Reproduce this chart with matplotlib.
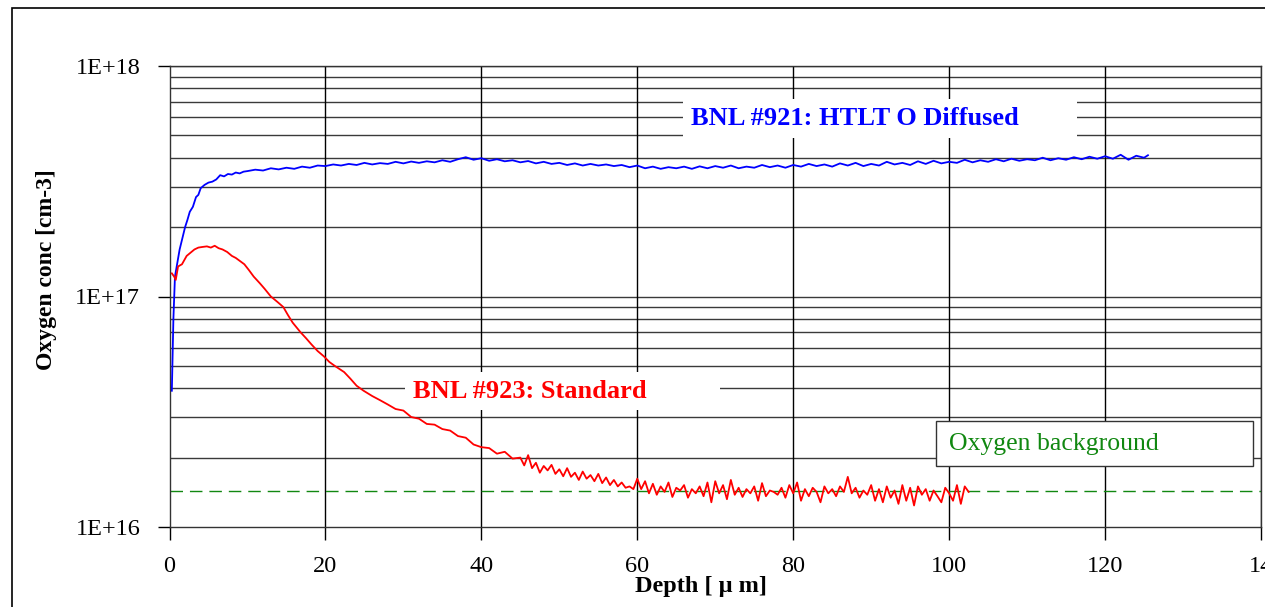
import matplotlib
matplotlib.use("Agg")
import matplotlib.pyplot as plt
from matplotlib.patches import Rectangle
from matplotlib.ticker import FixedLocator, NullFormatter

plt.rcParams['font.family'] = ['Liberation Serif', 'DejaVu Serif']

# ---- data (values in units of 1e17 cm-3) ----
blue_x = [0.3, 0.5, 0.7, 1.0, 1.3, 1.7, 2.0, 2.3, 2.6, 3.0, 3.4, 3.7, 4.0, 4.5, 5.0, 5.5, 6.0,
          6.5, 7.0, 7.5, 8.0, 8.5, 9.0, 9.5] + list(range(10, 126)) + [125.5]
blue_y = [0.39, 0.80, 1.22, 1.40, 1.60, 1.82, 2.00, 2.15, 2.33, 2.45, 2.70, 2.76, 2.95, 3.05,
          3.12, 3.15, 3.22, 3.36, 3.32, 3.40, 3.38, 3.45, 3.42, 3.48,
          3.50, 3.55, 3.52, 3.60, 3.56, 3.62, 3.58, 3.66, 3.62, 3.70,
          3.68, 3.74, 3.70, 3.76, 3.72, 3.80, 3.74, 3.79, 3.76, 3.84,
          3.78, 3.85, 3.80, 3.86, 3.82, 3.90, 3.84, 3.94, 4.02, 3.92,
          3.98, 3.88, 3.94, 3.86, 3.90, 3.82, 3.87, 3.78, 3.84, 3.76,
          3.80, 3.72, 3.78, 3.70, 3.76, 3.70, 3.74, 3.68, 3.72, 3.64,
          3.70, 3.60, 3.66, 3.58, 3.64, 3.60, 3.66, 3.58, 3.67, 3.60,
          3.68, 3.62, 3.70, 3.60, 3.66, 3.62, 3.72, 3.64, 3.70, 3.62,
          3.72, 3.66, 3.76, 3.68, 3.74, 3.66, 3.78, 3.70, 3.80, 3.68,
          3.76, 3.70, 3.84, 3.74, 3.80, 3.72, 3.86, 3.76, 3.88, 3.78,
          3.84, 3.80, 3.92, 3.82, 3.90, 3.84, 3.94, 3.86, 3.96, 3.88,
          3.94, 3.90, 4.00, 3.90, 3.98, 3.92, 4.02, 3.94, 4.04, 3.96,
          4.06, 3.96, 4.12, 3.92, 4.08, 4.00, 4.10]

red_x = [0.3, 0.6, 0.8, 1.1, 1.6, 2.2, 2.8, 3.2, 3.7, 4.2, 4.8, 5.3, 5.8, 6.3, 6.8, 7.4, 8.0,
         8.5, 9.1, 9.6, 10.2, 10.8, 11.6, 12.2, 13.0, 13.8, 14.6, 15.2, 15.8, 16.8, 17.5,
         18.2, 19.0, 19.8, 20.5, 21.2, 22.4, 23.2, 24.0, 24.9, 26.0, 27.0, 28.0, 29.0,
         30, 31, 32, 33, 34, 35, 36, 37, 38, 39, 40, 41, 42, 43, 44,
         45.0, 45.5, 46.0, 46.5, 47.0, 47.5, 48.0, 48.5, 49.0, 49.5,
         50.0, 50.5, 51.0, 51.5, 52.0, 52.5, 53.0, 53.5, 54.0, 54.5,
         55.0, 55.5, 56.0, 56.5, 57.0, 57.5, 58.0, 58.5, 59.0, 59.5,
         60.0, 60.5, 61.0, 61.5, 62.0, 62.5, 63.0, 63.5, 64.0, 64.5,
         65.0, 65.5, 66.0, 66.5, 67.0, 67.5, 68.0, 68.5, 69.0, 69.5,
         70.0, 70.5, 71.0, 71.5, 72.0, 72.5, 73.0, 73.5, 74.0, 74.5,
         75.0, 75.5, 76.0, 76.5, 77.0, 77.5, 78.0, 78.5, 79.0, 79.5,
         80.0, 80.5, 81.0, 81.5, 82.0, 82.5, 83.0, 83.5, 84.0, 84.5,
         85.0, 85.5, 86.0, 86.5, 87.0, 87.5, 88.0, 88.5, 89.0, 89.5,
         90.0, 90.5, 91.0, 91.5, 92.0, 92.5, 93.0, 93.5, 94.0, 94.5,
         95.0, 95.5, 96.0, 96.5, 97.0, 97.5, 98.0, 98.5, 99.0, 99.5,
         100.0, 100.5, 101.0, 101.5, 102.0, 102.5]
red_y = [1.26, 1.22, 1.18, 1.35, 1.38, 1.50, 1.56, 1.60, 1.63, 1.64, 1.65, 1.63, 1.66, 1.62,
         1.60, 1.56, 1.50, 1.47, 1.42, 1.38, 1.30, 1.22, 1.14, 1.08, 1.00, 0.95, 0.90, 0.83,
         0.77, 0.70, 0.66, 0.62, 0.58, 0.55, 0.52, 0.50, 0.47, 0.44, 0.41, 0.39, 0.37, 0.355,
         0.34, 0.325,
         0.320, 0.300, 0.295, 0.280, 0.278, 0.266, 0.262, 0.248, 0.244, 0.228, 0.222, 0.220,
         0.208, 0.212, 0.198,
         0.200, 0.185, 0.205, 0.180, 0.190, 0.172, 0.184, 0.176, 0.186, 0.170,
         0.178, 0.166, 0.180, 0.165, 0.172, 0.160, 0.174, 0.162, 0.168, 0.158,
         0.170, 0.155, 0.164, 0.152, 0.160, 0.150, 0.156, 0.148, 0.150, 0.146,
         0.162, 0.146, 0.158, 0.140, 0.154, 0.138, 0.150, 0.142, 0.156, 0.135,
         0.148, 0.144, 0.152, 0.134, 0.146, 0.140, 0.150, 0.136, 0.156, 0.128,
         0.158, 0.140, 0.152, 0.132, 0.160, 0.138, 0.148, 0.135, 0.146, 0.140,
         0.150, 0.130, 0.155, 0.136, 0.144, 0.142, 0.138, 0.148, 0.134, 0.152,
         0.140, 0.156, 0.130, 0.146, 0.136, 0.148, 0.142, 0.128, 0.150, 0.140,
         0.146, 0.136, 0.150, 0.142, 0.165, 0.140, 0.148, 0.134, 0.144, 0.138,
         0.152, 0.130, 0.146, 0.128, 0.150, 0.134, 0.144, 0.126, 0.152, 0.130,
         0.148, 0.124, 0.150, 0.138, 0.146, 0.130, 0.144, 0.136, 0.128, 0.148,
         0.140, 0.130, 0.152, 0.126, 0.150, 0.142]

background_level = 1.43e16
x_ticks = [0, 20, 40, 60, 80, 100, 120, 140]
x_tick_labels = ['0', '20', '40', '60', '80', '100', '120', '14']
y_ticks = [1e16, 1e17, 1e18]
y_tick_labels = ['1E+16', '1E+17', '1E+18']

blue_label = 'BNL #921: HTLT O Diffused'
red_label = 'BNL #923: Standard'
bg_label = 'Oxygen background'

# ---- figure ----
fig = plt.figure(figsize=(12.65, 6.07), dpi=100)
W, H = 1265, 607
fig.patches.append(Rectangle((12 / W, -0.1), 1.2, 1 - 8 / H + 0.1, transform=fig.transFigure,
                             fill=False, edgecolor='black', linewidth=1.2))

ax = fig.add_axes([169.5 / W, 1 - 527 / H, (1261 - 169.5) / W, (527 - 66) / H])
ax.set_yscale('log')
ax.set_xlim(0, 140)
ax.set_ylim(1e16, 1e18)

# grid
minor_vals = [m * 10 ** e for e in (16, 17) for m in range(2, 10)]
for v in minor_vals + [1e17, 1e18]:
    ax.axhline(v, color='#3a3a3a', lw=1.0, zorder=1)
for xv in x_ticks[1:]:
    ax.axvline(xv, color='black', lw=1.0, zorder=1)

ax.axhline(background_level, color='#118811', lw=1.0, ls=(0, (9, 5)), zorder=2)

ax.plot(blue_x, [v * 1e17 for v in blue_y], color='#0000ff', lw=1.3, zorder=3)
ax.plot(red_x, [v * 1e17 for v in red_y], color='#ff0000', lw=1.3, zorder=3)

ax.yaxis.set_major_locator(FixedLocator(y_ticks))
ax.set_yticklabels(y_tick_labels)
ax.yaxis.set_minor_locator(FixedLocator([]))
ax.yaxis.set_minor_formatter(NullFormatter())
ax.set_xticks(x_ticks)
ax.set_xticklabels(x_tick_labels)
ax.tick_params(axis='both', which='major', direction='out', length=9, width=1,
               labelsize=17.5, colors='black')
ax.tick_params(axis='x', pad=12)
ax.tick_params(axis='y', pad=12)
for s in ax.spines.values():
    s.set_linewidth(1.0)
    s.set_color('#333333')

ax.set_ylabel('Oxygen conc [cm-3]', fontsize=17, fontweight='bold')
ax.yaxis.set_label_coords(-0.103, 0.5575)
ax.set_xlabel('Depth [ μ m]', fontsize=17.5, fontweight='bold', va='center')
ax.xaxis.set_label_coords(0.487, -0.128)

# annotation boxes (white areas masking the grid)
ax.add_patch(Rectangle((0.4705, 0.8438), 0.3609, 0.0846, transform=ax.transAxes,
                       facecolor='white', edgecolor='none', zorder=4))
ax.add_patch(Rectangle((0.2156, 0.2538), 0.2887, 0.0824, transform=ax.transAxes,
                       facecolor='white', edgecolor='none', zorder=4))
ax.add_patch(Rectangle((0.7022, 0.1323), 0.2905, 0.0976, transform=ax.transAxes,
                       facecolor='white', edgecolor='#333333', lw=1.0, zorder=4))

ax.text(0.4777, 0.8872, blue_label, transform=ax.transAxes, color='#0000ff', fontsize=19,
        fontweight='bold', va='center', ha='left', zorder=5)
ax.text(0.2231, 0.295, red_label, transform=ax.transAxes, color='#ff0000', fontsize=19,
        fontweight='bold', va='center', ha='left', zorder=5)
ax.text(0.714, 0.1800, bg_label, transform=ax.transAxes, color='#118811', fontsize=18.5,
        va='center', ha='left', zorder=5)

fig.savefig('out.png', dpi=100)
